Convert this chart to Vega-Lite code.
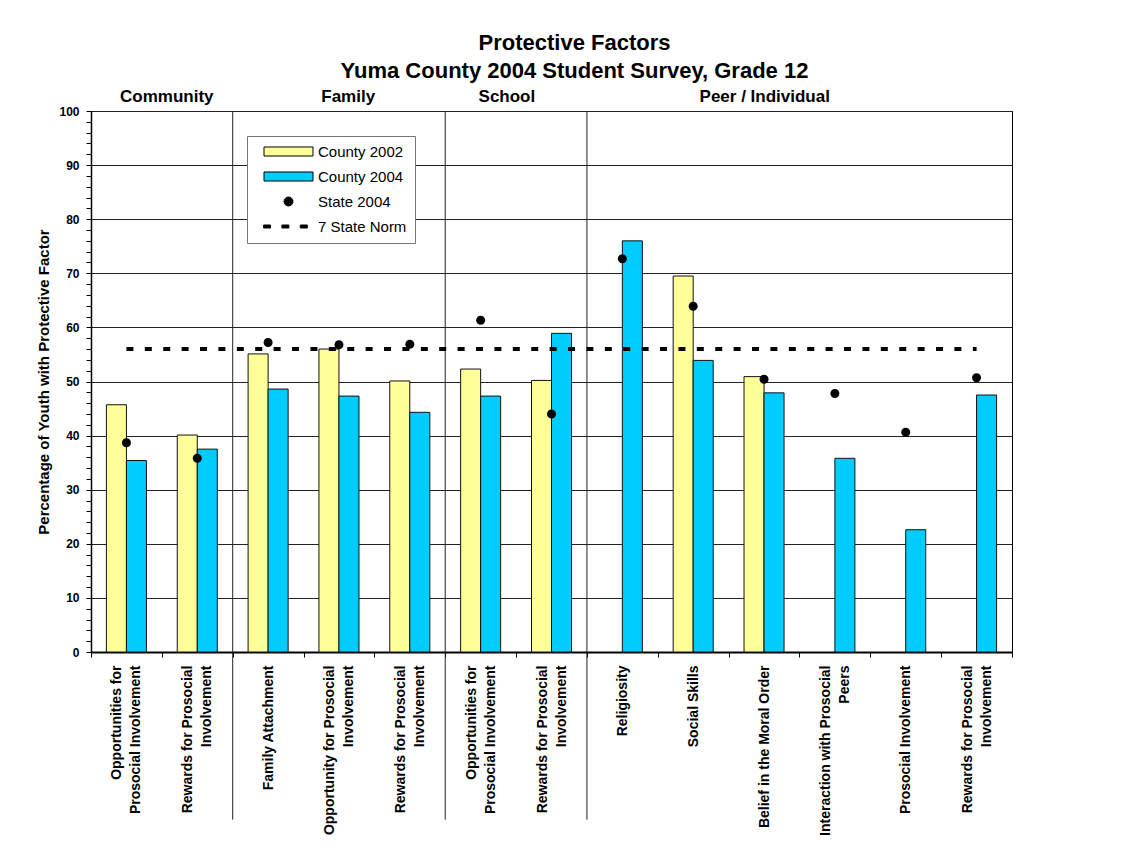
{
  "$schema": "https://vega.github.io/schema/vega-lite/v6.json",
  "width": 921,
  "height": 541,
  "autosize": {"type": "none"},
  "padding": {"left": 91, "top": 111, "right": 123, "bottom": 198},
  "background": "white",
  "title": {
    "text": ["Protective Factors", "Yuma County 2004 Student Survey, Grade 12"],
    "font": "Liberation Sans",
    "fontSize": 22,
    "fontWeight": "bold",
    "lineHeight": 28,
    "color": "#000",
    "anchor": "middle",
    "frame": "group",
    "dx": 23,
    "offset": 5
  },
  "data": {
    "values": [
      {"key": "01|Opportunities for|Prosocial Involvement", "series": "County 2002", "value": 45.7},
      {"key": "01|Opportunities for|Prosocial Involvement", "series": "County 2004", "value": 35.4},
      {"key": "01|Opportunities for|Prosocial Involvement", "series": "State 2004", "value": 38.7},
      {"key": "01|Opportunities for|Prosocial Involvement", "series": "7 State Norm", "value": 56},
      {"key": "02|Rewards for Prosocial|Involvement", "series": "County 2002", "value": 40.1},
      {"key": "02|Rewards for Prosocial|Involvement", "series": "County 2004", "value": 37.5},
      {"key": "02|Rewards for Prosocial|Involvement", "series": "State 2004", "value": 35.8},
      {"key": "02|Rewards for Prosocial|Involvement", "series": "7 State Norm", "value": 56},
      {"key": "03|Family Attachment", "series": "County 2002", "value": 55.1},
      {"key": "03|Family Attachment", "series": "County 2004", "value": 48.6},
      {"key": "03|Family Attachment", "series": "State 2004", "value": 57.2},
      {"key": "03|Family Attachment", "series": "7 State Norm", "value": 56},
      {"key": "04|Opportunity for Prosocial|Involvement", "series": "County 2002", "value": 56.0},
      {"key": "04|Opportunity for Prosocial|Involvement", "series": "County 2004", "value": 47.3},
      {"key": "04|Opportunity for Prosocial|Involvement", "series": "State 2004", "value": 56.8},
      {"key": "04|Opportunity for Prosocial|Involvement", "series": "7 State Norm", "value": 56},
      {"key": "05|Rewards for Prosocial|Involvement", "series": "County 2002", "value": 50.1},
      {"key": "05|Rewards for Prosocial|Involvement", "series": "County 2004", "value": 44.3},
      {"key": "05|Rewards for Prosocial|Involvement", "series": "State 2004", "value": 56.9},
      {"key": "05|Rewards for Prosocial|Involvement", "series": "7 State Norm", "value": 56},
      {"key": "06|Opportunities for|Prosocial Involvement", "series": "County 2002", "value": 52.3},
      {"key": "06|Opportunities for|Prosocial Involvement", "series": "County 2004", "value": 47.3},
      {"key": "06|Opportunities for|Prosocial Involvement", "series": "State 2004", "value": 61.3},
      {"key": "06|Opportunities for|Prosocial Involvement", "series": "7 State Norm", "value": 56},
      {"key": "07|Rewards for Prosocial|Involvement", "series": "County 2002", "value": 50.2},
      {"key": "07|Rewards for Prosocial|Involvement", "series": "County 2004", "value": 58.9},
      {"key": "07|Rewards for Prosocial|Involvement", "series": "State 2004", "value": 44.0},
      {"key": "07|Rewards for Prosocial|Involvement", "series": "7 State Norm", "value": 56},
      {"key": "08|Religiosity", "series": "County 2004", "value": 76.0},
      {"key": "08|Religiosity", "series": "State 2004", "value": 72.7},
      {"key": "08|Religiosity", "series": "7 State Norm", "value": 56},
      {"key": "09|Social Skills", "series": "County 2002", "value": 69.5},
      {"key": "09|Social Skills", "series": "County 2004", "value": 53.9},
      {"key": "09|Social Skills", "series": "State 2004", "value": 63.9},
      {"key": "09|Social Skills", "series": "7 State Norm", "value": 56},
      {"key": "10|Belief in the Moral Order", "series": "County 2002", "value": 50.9},
      {"key": "10|Belief in the Moral Order", "series": "County 2004", "value": 47.9},
      {"key": "10|Belief in the Moral Order", "series": "State 2004", "value": 50.4},
      {"key": "10|Belief in the Moral Order", "series": "7 State Norm", "value": 56},
      {"key": "11|Interaction with Prosocial|Peers", "series": "County 2004", "value": 35.8},
      {"key": "11|Interaction with Prosocial|Peers", "series": "State 2004", "value": 47.8},
      {"key": "11|Interaction with Prosocial|Peers", "series": "7 State Norm", "value": 56},
      {"key": "12|Prosocial Involvement", "series": "County 2004", "value": 22.6},
      {"key": "12|Prosocial Involvement", "series": "State 2004", "value": 40.6},
      {"key": "12|Prosocial Involvement", "series": "7 State Norm", "value": 56},
      {"key": "13|Rewards for Prosocial|Involvement", "series": "County 2004", "value": 47.5},
      {"key": "13|Rewards for Prosocial|Involvement", "series": "State 2004", "value": 50.7},
      {"key": "13|Rewards for Prosocial|Involvement", "series": "7 State Norm", "value": 56}
    ]
  },
  "config": {
    "font": "Liberation Sans",
    "view": {"stroke": "#000", "strokeWidth": 1},
    "axis": {
      "labelColor": "#000",
      "titleColor": "#000",
      "domainColor": "#000",
      "tickColor": "#000",
      "labelFont": "Liberation Sans",
      "titleFont": "Liberation Sans"
    },
    "legend": {
      "orient": "none",
      "legendX": 156,
      "legendY": 25,
      "padding": 8,
      "symbolOffset": 26,
      "labelOffset": 22,
      "rowPadding": 9,
      "symbolSize": 196,
      "symbolStrokeColor": "#000",
      "symbolStrokeWidth": 1,
      "symbolType": "M-3.5,-0.643H3.5V0.643H-3.5Z",
      "labelFontSize": 15,
      "labelFont": "Liberation Sans",
      "labelColor": "#000",
      "strokeColor": "#777",
      "fillColor": "#fff"
    }
  },
  "layer": [
    {
      "transform": [
        {"filter": {"field": "series", "equal": "7 State Norm"}},
        {"filter": {"field": "key", "oneOf": ["03|Family Attachment", "06|Opportunities for|Prosocial Involvement", "08|Religiosity"]}}
      ],
      "mark": {"type": "rule", "color": "#222", "strokeWidth": 1},
      "encoding": {
        "x": {"field": "key", "type": "nominal", "bandPosition": 0},
        "y": {"datum": 100, "type": "quantitative"},
        "y2": {"datum": -31}
      }
    },
    {
      "transform": [{"filter": {"field": "series", "oneOf": ["County 2002", "County 2004"]}}],
      "mark": {"type": "bar", "stroke": "#111", "strokeWidth": 1},
      "encoding": {
        "x": {
          "field": "key",
          "type": "nominal",
          "scale": {"paddingInner": 0, "paddingOuter": 0},
          "axis": {
            "title": null,
            "labelExpr": "slice(split(datum.label, '|'), 1)",
            "labelAngle": -90,
            "labelFontSize": 14,
            "labelFontWeight": "bold",
            "labelLineHeight": 19,
            "labelPadding": 8,
            "labelOffset": {"condition": {"test": "length(split(datum.value, '|')) > 2", "value": -9.5}, "value": 0},
            "labelOverlap": false,
            "labelLimit": 300,
            "tickBand": "extent",
            "tickSize": 5,
            "domainWidth": 2,
            "grid": false
          }
        },
        "xOffset": {
          "field": "series",
          "type": "nominal",
          "scale": {"domain": ["County 2002", "County 2004"], "paddingInner": 0, "paddingOuter": 0.77}
        },
        "y": {
          "field": "value",
          "type": "quantitative",
          "scale": {"domain": [0, 100], "nice": false},
          "axis": {
            "title": "Percentage of Youth with Protective Factor",
            "titleFontSize": 15,
            "titleFontWeight": "bold",
            "titlePadding": 7,
            "tickCount": 50,
            "labelExpr": "datum.value % 10 === 0 ? datum.label : ''",
            "labelFontSize": 12,
            "labelFontWeight": "bold",
            "labelPadding": 7,
            "labelOverlap": false,
            "labelFlush": false,
            "tickSize": 5,
            "domainWidth": 1.5,
            "grid": true,
            "gridColor": "#222",
            "gridOpacity": {"condition": {"test": "datum.value % 10 !== 0", "value": 0}, "value": 1}
          }
        },
        "color": {
          "field": "series",
          "type": "nominal",
          "title": null,
          "legend": {"labelExpr": "datum.label + '    '"},
          "scale": {
            "domain": ["County 2002", "County 2004", "State 2004", "7 State Norm"],
            "range": ["#FFFF99", "#00CCFF", "#000000", "#000000"]
          }
        }
      }
    },
    {
      "transform": [{"filter": {"field": "series", "equal": "7 State Norm"}}],
      "mark": {"type": "line", "color": "#000", "strokeWidth": 4, "strokeDash": [7, 11.4], "strokeCap": "butt"},
      "encoding": {
        "x": {"field": "key", "type": "nominal"},
        "y": {"field": "value", "type": "quantitative"}
      }
    },
    {
      "transform": [{"filter": {"field": "series", "equal": "State 2004"}}],
      "mark": {"type": "point", "filled": true, "opacity": 1, "size": 196},
      "encoding": {
        "x": {"field": "key", "type": "nominal"},
        "y": {"field": "value", "type": "quantitative"},
        "color": {"field": "series", "type": "nominal", "title": null, "legend": {"labelExpr": "datum.label + '    '"}},
        "shape": {
          "field": "series",
          "type": "nominal",
          "title": null,
          "legend": {"labelExpr": "datum.label + '    '"},
          "scale": {
            "domain": ["County 2002", "County 2004", "State 2004", "7 State Norm"],
            "range": [
              "M-3.5,-0.643H3.5V0.643H-3.5Z",
              "M-3.5,-0.643H3.5V0.643H-3.5Z",
              "M-0.643,0A0.643,0.643,0,1,1,0.643,0A0.643,0.643,0,1,1,-0.643,0Z",
              "M-3.571,-0.214H-2.571V0.214H-3.571Z M-0.943,-0.214H0.057V0.214H-0.943Z M1.686,-0.214H2.686V0.214H1.686Z"
            ]
          }
        }
      }
    },
    {
      "data": {"values": [{"group": "Community"}]},
      "mark": {"type": "text", "fontSize": 17, "fontWeight": "bold", "font": "Liberation Sans", "baseline": "middle", "align": "center", "color": "#000"},
      "encoding": {
        "x": {"datum": "02|Rewards for Prosocial|Involvement", "type": "nominal", "bandPosition": 0.07},
        "y": {"datum": 102.5, "type": "quantitative"},
        "text": {"field": "group"}
      }
    },
    {
      "data": {"values": [{"group": "Family"}]},
      "mark": {"type": "text", "fontSize": 17, "fontWeight": "bold", "font": "Liberation Sans", "baseline": "middle", "align": "center", "color": "#000"},
      "encoding": {
        "x": {"datum": "04|Opportunity for Prosocial|Involvement", "type": "nominal", "bandPosition": 0.63},
        "y": {"datum": 102.5, "type": "quantitative"},
        "text": {"field": "group"}
      }
    },
    {
      "data": {"values": [{"group": "School"}]},
      "mark": {"type": "text", "fontSize": 17, "fontWeight": "bold", "font": "Liberation Sans", "baseline": "middle", "align": "center", "color": "#000"},
      "encoding": {
        "x": {"datum": "06|Opportunities for|Prosocial Involvement", "type": "nominal", "bandPosition": 0.87},
        "y": {"datum": 102.5, "type": "quantitative"},
        "text": {"field": "group"}
      }
    },
    {
      "data": {"values": [{"group": "Peer / Individual"}]},
      "mark": {"type": "text", "fontSize": 17, "fontWeight": "bold", "font": "Liberation Sans", "baseline": "middle", "align": "center", "color": "#000"},
      "encoding": {
        "x": {"datum": "10|Belief in the Moral Order", "type": "nominal", "bandPosition": 0.51},
        "y": {"datum": 102.5, "type": "quantitative"},
        "text": {"field": "group"}
      }
    }
  ]
}
